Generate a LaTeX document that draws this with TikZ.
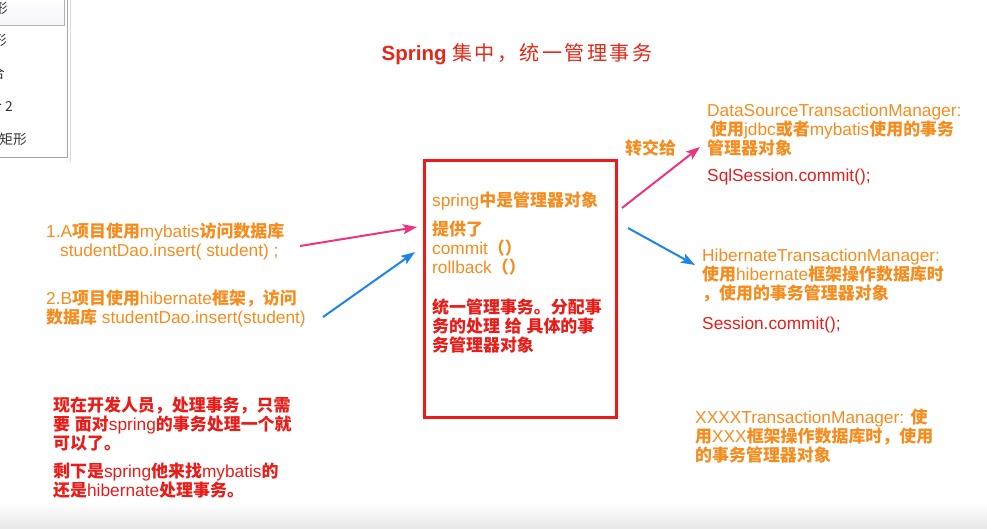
\documentclass[tikz,border=0pt]{standalone}
\usepackage{fontspec}
\setmainfont{Liberation Sans}
\newfontfamily\cjkfam{Noto Sans CJK SC}[Scale=0.98]
\usetikzlibrary{arrows.meta}

% switch to the CJK face for Chinese characters, back to Latin after them
\XeTeXinterchartokenstate=1
\newXeTeXintercharclass\cjkclass
\newcount\cjkcode
\newcommand\setcjkrange[2]{\cjkcode=#1\relax
  \loop\XeTeXcharclass\cjkcode=\cjkclass
  \ifnum\cjkcode<#2\advance\cjkcode by 1\repeat}
\setcjkrange{"3000}{"303F}
\setcjkrange{"4E00}{"9FFF}
\setcjkrange{"FF00}{"FFEF}
\XeTeXinterchartoks 0 \cjkclass = {\cjkfam\bfseries}
\XeTeXinterchartoks 4095 \cjkclass = {\cjkfam\bfseries}
\XeTeXinterchartoks \cjkclass 0 = {\rmfamily\mdseries}
\XeTeXinterchartoks \cjkclass 4095 = {\rmfamily\mdseries}

\definecolor{txtorange}{RGB}{244,140,30}
\definecolor{txtred}{RGB}{232,28,24}
\definecolor{titlered}{RGB}{228,40,24}
\definecolor{boxred}{RGB}{240,24,24}
\definecolor{arrpink}{RGB}{236,52,128}
\definecolor{arrblue}{RGB}{30,132,230}

\newcommand{\diagfont}{\fontsize{17.3}{19}\selectfont}

% multi-line notes are placed by the baseline of their last line
\tikzset{
  note-orange/.style={text=txtorange, font=\diagfont, align=left, inner sep=0pt, anchor=base west},
  note-red/.style={note-orange, text=txtred},
  menu-item/.style={text=black!80, font=\fontsize{14}{16}\selectfont, inner sep=0pt, anchor=base east},
  mgr-box/.style={draw=boxred, line width=3pt, outer sep=0pt, inner sep=0pt, anchor=north west},
  pass-pink/.style={draw=arrpink, line width=2pt, -{Stealth[length=14pt,width=10pt,inset=3pt]}},
  pass-blue/.style={pass-pink, draw=arrblue}
}

\begin{document}
\begin{tikzpicture}[x=1pt, y=-1pt]
  \useasboundingbox (0,0) rectangle (987,528);

  % --- menu fragment, top left ---
  \begin{scope}
    \clip (0,0) rectangle (74,162);
    \fill[white] (-2,-2) rectangle (67,157);
    \shade[top color=white, bottom color=black!12!blue!4, draw=black!30] (-2,-2) rectangle (64,25);
    \draw[black!35] (67,-2) -- (67,157) -- (-2,157);
    \draw[black!15] (70,-2) -- (70,162);
    \node[menu-item] (item1) at (8,13) {\XeTeXinterchartokenstate=0 \cjkfam 矩形};
    \node[menu-item] (item2) at (7,45) {\XeTeXinterchartokenstate=0 \cjkfam 矩形};
    \node[menu-item] (item3) at (5,78) {\XeTeXinterchartokenstate=0 \cjkfam 组合};
    \node[menu-item] (item4) at (13,111) {\XeTeXinterchartokenstate=0 \cjkfam 组合 2};
    \node[menu-item] (item5) at (27,144) {\XeTeXinterchartokenstate=0 \cjkfam 圆角矩形};
  \end{scope}
  % bottom band
  \shade[top color=white, bottom color=black!9] (0,503) rectangle (987,528);

  % --- title ---
  \node[font=\fontsize{20.5}{24}\selectfont, text=titlered, anchor=base] (title) at (517,60)
    {\XeTeXinterchartokenstate=0 \bfseries Spring {\cjkfam\mdseries\addfontfeatures{LetterSpace=12}集中，统一管理事务}};

  % --- projects on the left ---
  \node[note-orange] (projA) at (46,256) {1.A项目使用mybatis访问数据库\\\hspace*{14pt}studentDao.insert( student) ;};
  \node[note-orange] (projB) at (46,323) {2.B项目使用hibernate框架，访问\\数据库 studentDao.insert(student)};

  % --- spring manager box ---
  \node[mgr-box, minimum width=192, minimum height=257] (mgr) at (424,160) {};
  \node[note-orange] (mgrtxt) at (432,273) {spring中是管理器对象\\[10pt]提供了\\commit（）\\rollback（）};
  \node[note-red] (mgrdist) at (432,351) {统一管理事务。分配事\\务的处理 给 具体的事\\务管理器对象};

  % --- concrete managers on the right ---
  \node[note-orange] (handto) at (625,154) {转交给};
  \node[note-orange] (dsmgr) at (707,154) {DataSourceTransactionManager:\\\hspace*{3pt}使用jdbc或者mybatis使用的事务\\管理器对象};
  \node[note-red] (dscommit) at (707,181) {SqlSession.commit();};
  \node[note-orange] (hbmgr) at (702,299) {HibernateTransactionManager:\\使用hibernate框架操作数据库时\\，使用的事务管理器对象};
  \node[note-red] (hbcommit) at (702,329) {Session.commit();};
  \node[note-orange] (xxmgr) at (695,461) {XXXXTransactionManager: 使\\用XXX框架操作数据库时，使用\\的事务管理器对象};

  % --- note for developers ---
  \node[note-red] (devnote) at (53,449) {现在开发人员，处理事务，只需\\要 面对spring的事务处理一个就\\可以了。};
  \node[note-red] (devrest) at (53,496) {剩下是spring他来找mybatis的\\还是hibernate处理事务。};

  % --- arrows ---
  \coordinate (projA-out) at (300,246);
  \coordinate (projB-out) at (323,317);
  \coordinate (ds-in) at (700,147);
  \coordinate (hb-in) at (695,265);
  \draw[pass-pink] (projA-out) -- ([shift={(-7,67)}]mgr.north west);
  \draw[pass-blue] (projB-out) -- ([shift={(-9,92)}]mgr.north west);
  \draw[pass-pink] ([shift={(6,48)}]mgr.north east) -- (ds-in);
  \draw[pass-blue] ([shift={(12,68)}]mgr.north east) -- (hb-in);
\end{tikzpicture}
\end{document}
